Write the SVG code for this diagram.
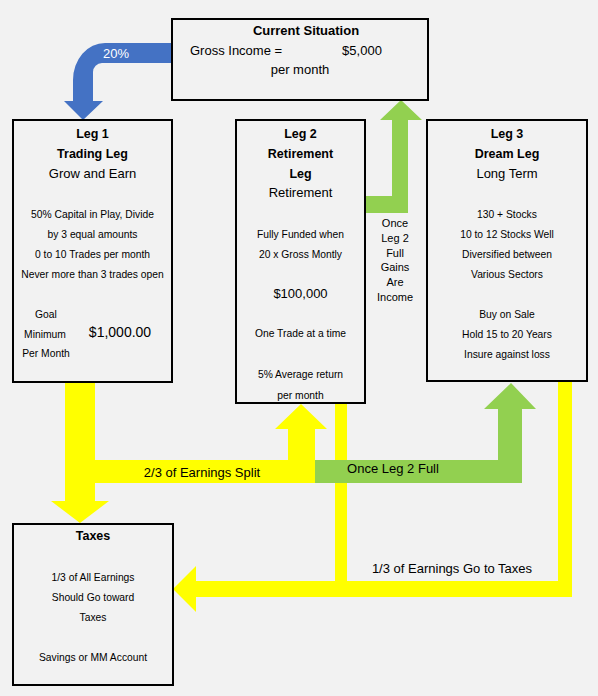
<svg xmlns="http://www.w3.org/2000/svg" width="598" height="696" viewBox="0 0 598 696">
<style>
.bg{fill:#f2f2f2}
.box{fill:#f2f2f2;stroke:#000;stroke-width:2}
text{font-family:"Liberation Sans",Arial,sans-serif;fill:#000;text-anchor:middle}
.h{font-size:12.5px;font-weight:bold}
.sub{font-size:13px}
.s{font-size:10.3px}
.m{font-size:11px}
.lbl{font-size:13px}
.big{font-size:14px}
.yel{fill:#ffff00}
.grn{fill:#92d050}
.blu{fill:#4472c4}
</style>
<rect class="bg" x="0" y="0" width="598" height="696"/>
<g id="connectors">
  <path id="c-income-leg1" class="blu" d="M172,43 L105,43 A32,37 0 0 0 73,80 L73,101 L64,101 L83,120 L103,101 L93,101 L93,72 A9,9 0 0 1 102,63 L172,63 Z"/>
  <text x="116" y="58" style="font-size:13px;fill:#fff">20%</text>
  <path id="c-leg2-income" class="grn" d="M364,196 L392,196 L392,120 L380,120 L401,100 L422,120 L408,120 L408,213 L364,213 Z"/>
  <path id="c-leg1-split" class="yel" d="M65,383 L95,383 L95,460 L288,460 L288,429 L275,429 L301,404 L327,429 L315,429 L315,483 L95,483 L95,501 L109,501 L80,523 L51,501 L65,501 Z"/>
  <path id="c-taxes" class="yel" d="M558,382 L572,382 L572,597 L196,597 L196,612 L173,589 L196,566 L196,581 L335,581 L335,404 L347,404 L347,581 L558,581 Z"/>
  <path id="c-leg2-leg3" class="grn" d="M315,460 L498,460 L498,409 L484,409 L511,383 L536,409 L522,409 L522,483 L315,483 Z"/>
  <text x="202" y="477" class="lbl">2/3 of Earnings Split</text>
  <text x="393" y="473" class="lbl">Once Leg 2 Full</text>
  <text x="452" y="573" class="lbl">1/3 of Earnings Go to Taxes</text>
  <g class="m">
    <text x="395" y="227">Once</text>
    <text x="395" y="242">Leg 2</text>
    <text x="395" y="257">Full</text>
    <text x="395" y="271">Gains</text>
    <text x="395" y="286">Are</text>
    <text x="395" y="301">Income</text>
  </g>
</g>
<g id="current">
  <rect class="box" x="172" y="19" width="256" height="81"/>
  <text x="306" y="35" class="h" style="font-size:13px">Current Situation</text>
  <text x="190" y="55" class="sub" style="text-anchor:start">Gross Income =</text>
  <text x="362" y="55" class="sub">$5,000</text>
  <text x="300" y="74" class="sub">per month</text>
</g>
<g id="leg1">
  <rect class="box" x="13" y="120" width="159" height="262"/>
  <text x="92.5" y="137.5" class="h">Leg 1</text>
  <text x="92.5" y="157.5" class="h">Trading Leg</text>
  <text x="92.5" y="177.5" class="sub">Grow and Earn</text>
  <text x="92.5" y="217.5" class="s">50% Capital in Play, Divide</text>
  <text x="92.5" y="237.5" class="s">by 3 equal amounts</text>
  <text x="92.5" y="257.5" class="s">0 to 10 Trades per month</text>
  <text x="92.5" y="277.5" class="s">Never more than 3 trades open</text>
  <text x="46" y="317.5" class="s">Goal</text>
  <text x="45" y="337.5" class="s">Minimum</text>
  <text x="46" y="356.5" class="s">Per Month</text>
  <text x="120" y="337" class="big">$1,000.00</text>
</g>
<g id="leg2">
  <rect class="box" x="236" y="120" width="129" height="283"/>
  <text x="300.5" y="137.5" class="h">Leg 2</text>
  <text x="300.5" y="157.5" class="h">Retirement</text>
  <text x="300.5" y="177.5" class="h">Leg</text>
  <text x="300.5" y="196.5" class="sub">Retirement</text>
  <text x="300.5" y="237.5" class="s">Fully Funded when</text>
  <text x="300.5" y="257.5" class="s">20 x Gross Montly</text>
  <text x="300.5" y="297.5" class="sub">$100,000</text>
  <text x="300.5" y="336.5" class="s">One Trade at a time</text>
  <text x="300.5" y="377.5" class="s">5% Average return</text>
  <text x="300.5" y="398.5" class="s">per month</text>
</g>
<g id="leg3">
  <rect class="box" x="427" y="120" width="160" height="261"/>
  <text x="507" y="137.5" class="h">Leg 3</text>
  <text x="507" y="157.5" class="h">Dream Leg</text>
  <text x="507" y="177.5" class="sub">Long Term</text>
  <text x="507" y="217.5" class="s">130 + Stocks</text>
  <text x="507" y="237.5" class="s">10 to 12 Stocks Well</text>
  <text x="507" y="257.5" class="s">Diversified between</text>
  <text x="507" y="277.5" class="s">Various Sectors</text>
  <text x="507" y="317.5" class="s">Buy on Sale</text>
  <text x="507" y="337.5" class="s">Hold 15 to 20 Years</text>
  <text x="507" y="357.5" class="s">Insure against loss</text>
</g>
<g id="taxes">
  <rect class="box" x="13" y="524" width="160" height="161"/>
  <text x="93" y="539.5" class="h">Taxes</text>
  <text x="93" y="580.5" class="s">1/3 of All Earnings</text>
  <text x="93" y="600.5" class="s">Should Go toward</text>
  <text x="93" y="620.5" class="s">Taxes</text>
  <text x="93" y="660.5" class="s">Savings or MM Account</text>
</g>
</svg>
